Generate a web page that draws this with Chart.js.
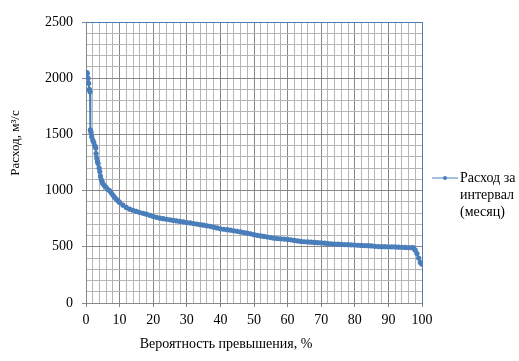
<!DOCTYPE html>
<html>
<head>
<meta charset="utf-8">
<script src="https://cdn.jsdelivr.net/npm/chart.js@4"></script>
<style>
html,body{margin:0;padding:0;background:#fff;}
#wrap{position:relative;width:519px;height:361px;}
</style>
</head>
<body>
<div id="wrap"><canvas id="c" width="519" height="361"></canvas></div>
<script>
const probability = [0.2,0.4,0.6,0.8,1.0,1.2,1.3,1.5,1.7,2.0,2.3,2.6,2.9,3.0,3.2,3.4,3.6,3.9,4.1,4.3,4.5,4.8,5,5.5,6,6.5,7,7.5,8,8.5,9,9.5,10,11,12,13,14,15,16,17,18,19,20,21,22,23,24,25,26,27,28,29,30,31,32,33,34,35,36,37,38,39,40,41,42,43,44,45,46,47,48,49,50,51,52,53,54,55,56,57,58,59,60,61,62,63,64,65,66,67,68,69,70,71,72,73,74,75,76,77,78,79,80,81,82,83,84,85,86,87,88,89,90,91,92,93,94,95,96,97,97.5,98,98.5,99,99.5,100];
const discharge = [2050,2045,2000,1955,1900,1880,1540,1520,1480,1450,1430,1400,1380,1330,1290,1260,1240,1200,1170,1130,1100,1080,1060,1045,1030,1010,1000,980,960,940,925,910,895,870,850,835,825,815,805,798,790,780,770,762,755,750,745,740,735,730,726,722,716,712,707,702,697,692,687,682,675,668,660,656,652,648,643,638,632,627,621,615,608,602,597,592,587,582,577,574,571,569,566,562,557,552,548,545,543,541,539,537,535,532,529,527,525,523,521,520,519,518,516,514,512,511,510,508,504,502,501,501,500,500,499,497,495,494,493,492,490,470,440,400,360,345];
const seriesName = ["Расход за", "интервал", "(месяц)"];
const xTitle = "Вероятность превышения, %";
const yTitle = "Расход, м³/с";

const FONT = "'Liberation Serif', 'Times New Roman', serif";
const BLUE = "#4a7ebb";

const points = probability.map((p,i)=>({x:p,y:discharge[i]}));

const extras = {
  id:'extras',
  afterDraw(chart){
    const {ctx, chartArea:a} = chart;
    ctx.save();
    ctx.strokeStyle = BLUE;
    ctx.lineWidth = 1;
    ctx.beginPath();
    ctx.moveTo(a.left, a.top+0.5); ctx.lineTo(a.right, a.top+0.5);
    ctx.moveTo(a.right+0.5, a.top); ctx.lineTo(a.right+0.5, a.bottom);
    ctx.stroke();
    // legend
    const lx = 432, ly = 178;
    ctx.beginPath();
    ctx.moveTo(lx, ly); ctx.lineTo(lx+26, ly); ctx.stroke();
    ctx.fillStyle = BLUE;
    ctx.beginPath(); ctx.arc(lx+13, ly, 2, 0, Math.PI*2); ctx.fill();
    ctx.fillStyle = "#000";
    ctx.font = "14px " + FONT;
    ctx.textBaseline = "middle";
    ctx.textAlign = "left";
    seriesName.forEach((t,i)=>ctx.fillText(t, lx+28, ly + i*17));
    // axis titles
    ctx.textAlign = "center";
    ctx.fillText(xTitle, 226, 344);
    ctx.font = "13px " + FONT;
    ctx.translate(16, 143);
    ctx.rotate(-Math.PI/2);
    ctx.fillText(yTitle, 0, 0);
    ctx.restore();
  }
};

new Chart(document.getElementById('c'), {
  type:'scatter',
  data:{datasets:[{
    label: seriesName.join(' '),
    data: points,
    showLine:true,
    borderColor: BLUE,
    backgroundColor: BLUE,
    borderWidth: 2,
    pointRadius: 2.6,
    pointBorderWidth: 0,
    pointHoverRadius: 2.6
  }]},
  options:{
    responsive:false,
    animation:false,
    devicePixelRatio:1,
    layout:{padding:{top:22,right:97,left:0,bottom:0}},
    plugins:{legend:{display:false},tooltip:{enabled:false}},
    scales:{
      x:{
        type:'linear', min:0, max:100,
        ticks:{stepSize:2, autoSkip:false, maxRotation:0, padding:5, color:'#000',
          font:{family:FONT,size:14},
          callback:v=> v%10===0 ? String(v) : ''},
        grid:{color:ctx=> (ctx.tick && ctx.tick.value%10===0) ? '#878787' : '#b5b5b5',
              tickColor:ctx=> (ctx.tick && ctx.tick.value%10===0) ? '#878787' : 'rgba(0,0,0,0)',
              tickLength:4, lineWidth:1},
        border:{color:'#878787'},
        title:{display:false, text:xTitle},
        afterFit(s){ s.height = 58; }
      },
      y:{
        min:0, max:2500,
        ticks:{stepSize:100, autoSkip:false, padding:9, color:'#000',
          font:{family:FONT,size:14},
          callback:v=> v%500===0 ? String(v) : ''},
        grid:{color:ctx=> (ctx.tick && ctx.tick.value%500===0) ? '#878787' : '#b5b5b5',
              tickColor:ctx=> (ctx.tick && ctx.tick.value%500===0) ? '#878787' : 'rgba(0,0,0,0)',
              tickLength:4, lineWidth:1},
        border:{color:'#878787'},
        title:{display:false, text:yTitle},
        afterFit(s){ s.width = 86; }
      }
    }
  },
  plugins:[extras]
});
</script>
</body>
</html>
